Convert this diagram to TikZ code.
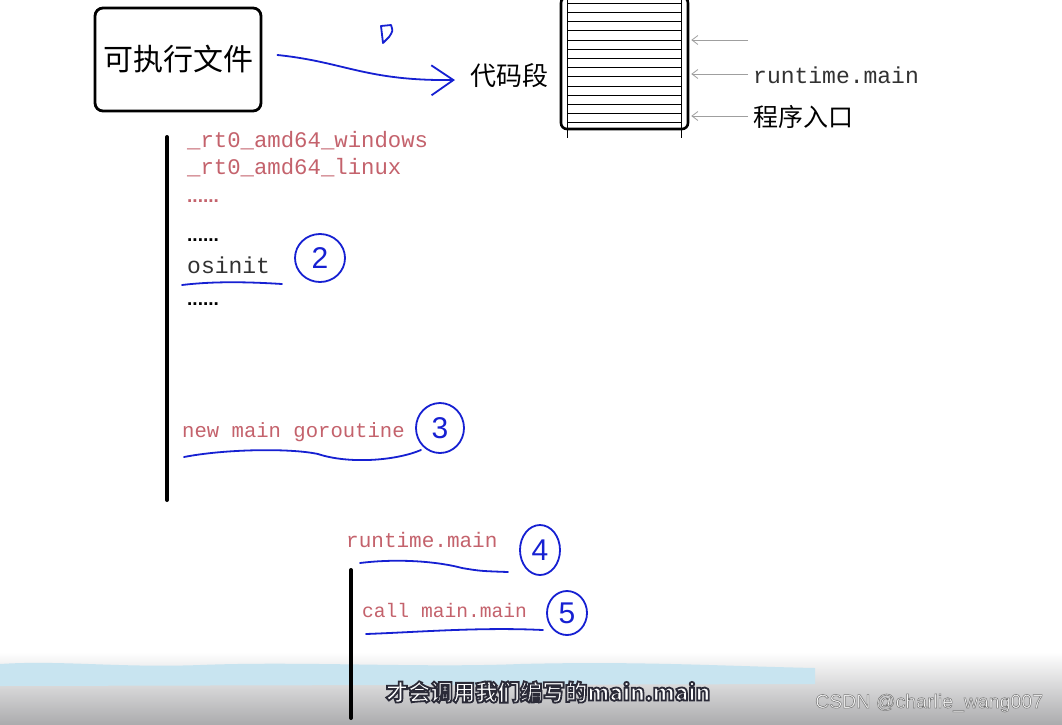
\documentclass[tikz,border=0pt]{standalone}
\usepackage{fontspec}
\setmainfont{Liberation Sans}
\setmonofont{Liberation Mono}
\newfontfamily\cjk{Noto Sans CJK SC}
\usetikzlibrary{arrows.meta,shapes.geometric}
\definecolor{codered}{RGB}{196,98,108}
\definecolor{pen}{RGB}{22,32,210}
\definecolor{bandblue}{RGB}{200,228,240}
\definecolor{darkgr}{RGB}{50,50,50}
\newcommand\outlinedtext[1]{\special{pdf:literal direct q 2 Tr 1.8 w 0.17 0.17 0.22 RG}#1\special{pdf:literal direct 0 Tr Q}}
\tikzset{
  redcode/.style={anchor=base west, inner sep=0pt, text=codered},
  blackcode/.style={anchor=base west, inner sep=0pt, text=darkgr},
  dotsred/.style={anchor=base west, inner sep=0pt, text=codered, font=\bfseries\fontsize{19}{19}\selectfont},
  dotsblack/.style={anchor=base west, inner sep=0pt, text=black, font=\bfseries\fontsize{19}{19}\selectfont},
  penline/.style={draw=pen, line width=1.8pt, line cap=round, line join=round},
  circnum/.style={draw=pen, line width=1.8pt, ellipse, inner sep=0pt, text=pen, font=\fontsize{30}{30}\selectfont},
  grayarrow/.style={draw=gray!75, line width=0.8pt, -{Straight Barb[length=6pt,width=9pt]}},
  bar/.style={draw=black, line width=4pt, line cap=round},
  stripe/.style={draw=black, line width=0.6pt},
  subtxt/.style={inner sep=0pt, text=white, font=\cjk\bfseries\fontsize{22.4}{22.4}\selectfont},
}
\begin{document}
\begin{tikzpicture}[x=1pt,y=-1pt]
\useasboundingbox (0,0) rectangle (1062,724);
\fill[white] (0,0) rectangle (1062,724);
% bottom band
\shade[top color=white, bottom color={rgb,255:red,172;green,172;blue,174}] (0,652) rectangle (1062,724);
\fill[bandblue] (0,664) .. controls (60,660) and (120,668) .. (200,665) .. controls (300,661) and (420,668) .. (520,664) .. controls (640,661) and (720,666) .. (815,668) -- (815,684) -- (0,686) -- cycle;

% executable box
\node[draw, line width=2.8pt, rounded corners=8pt, minimum width=166, minimum height=103, inner sep=0pt,
      font=\cjk\fontsize{30}{30}\selectfont] (exe) at (178,59.5) {可执行文件};
\node[inner sep=0pt, font=\cjk\fontsize{26}{26}\selectfont, anchor=west] (seg) at (470,76) {代码段};
\draw[penline, -{Straight Barb[length=22pt,width=30pt,line width=1.8pt]}]
  ([xshift=15pt,yshift=4.5pt]exe.east) .. controls (345,62) and (365,81) .. ([xshift=-15pt,yshift=-4pt]seg.west);
% blue mark
\draw[penline, line width=1.8pt] (381,26) -- (383,43) -- (389,37) .. controls (393,31) .. (391,25) -- cycle;

% memory block
\node[draw, line width=2.6pt, rounded corners=6pt, minimum width=127, minimum height=132, inner sep=0pt] (mem) at (624.5,63) {};
\foreach \yy in {3,12.2,...,125} \draw[stripe] (567,\yy) -- (681,\yy);
\draw[stripe] (567,-2) -- (567,138);
\draw[stripe] (681,-2) -- (681,138);

\coordinate (g1) at (748,40);
\node[inner sep=0pt, anchor=west, text=darkgr, font=\ttfamily\fontsize{23}{23}\selectfont] (rtm) at (753,75) {runtime.main};
\node[inner sep=0pt, anchor=west, font=\cjk\fontsize{25}{25}\selectfont] (entry) at (753,117) {程序入口};
\draw[grayarrow] (g1) -- ([xshift=2pt]mem.east |- g1);
\draw[grayarrow] ([xshift=-5pt,yshift=1pt]rtm.west) -- ([xshift=2pt,yshift=1pt]mem.east |- rtm.west);
\draw[grayarrow] ([xshift=-5pt,yshift=1pt]entry.west) -- ([xshift=2pt,yshift=1pt]mem.east |- entry.west);

% left bar and code
\draw[bar] (167,137) -- (167,500);
\node[redcode, font=\ttfamily\fontsize{22.3}{22.3}\selectfont] (w) at (187,147) {\_rt0\_amd64\_windows};
\node[redcode, font=\ttfamily\fontsize{22.3}{22.3}\selectfont] (l) at (187,174) {\_rt0\_amd64\_linux};
\node[dotsred] (d1) at (187,202) {......};
\node[dotsblack] (d2) at (187,241) {......};
\node[blackcode, font=\ttfamily\fontsize{23}{23}\selectfont] (os) at (187,273) {osinit};
\node[dotsblack] (d3) at (187,305) {......};
\draw[penline] (182,285) .. controls (215,281) and (250,282) .. (282,284);
\node[circnum, minimum width=50, minimum height=48] (c2) at (320,258) {2};

\node[redcode, font=\ttfamily\fontsize{20.6}{20.6}\selectfont] (nmg) at (182,437) {new main goroutine};
\draw[penline] (184,457) .. controls (225,449) and (290,448) .. (318,454) .. controls (348,464) and (395,461) .. (421,450);
\node[circnum, minimum width=48, minimum height=50] (c3) at (440,428) {3};

% runtime.main block
\node[redcode, font=\ttfamily\fontsize{21}{21}\selectfont] (rm) at (346,547) {runtime.main};
\draw[penline] (360,563) .. controls (400,558) and (440,562) .. (462,568) .. controls (480,571) .. (508,572);
\node[circnum, minimum width=40, minimum height=50] (c4) at (540,550) {4};
\draw[bar] (351,570) -- (351,718);
\node[redcode, font=\ttfamily\fontsize{19.6}{19.6}\selectfont] (cmm) at (362,617) {call main.main};
\draw[penline] (366,634) .. controls (420,632) and (480,627) .. (543,630);
\node[circnum, minimum width=40, minimum height=44] (c5) at (567,613) {5};

% subtitle and credit
\node[subtxt] (sub) at (548,692) {\outlinedtext{才会调用我们编写的main.main}};
\node[inner sep=0pt, anchor=west, text=gray!6, font=\fontsize{19.5}{19.5}\selectfont] (csdn) at (815,703) {\special{pdf:literal direct q 2 Tr 0.5 w 0.45 0.45 0.45 RG}CSDN @charlie\_wang007\special{pdf:literal direct 0 Tr Q}};
\end{tikzpicture}
\end{document}
